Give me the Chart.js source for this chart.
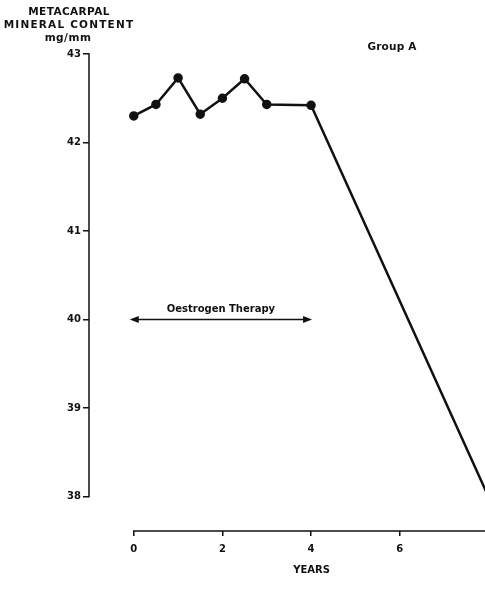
<!DOCTYPE html>
<html>
<head>
<meta charset="utf-8">
<script src="https://cdn.jsdelivr.net/npm/chart.js@4/dist/chart.umd.min.js"></script>
<style>
  html, body { margin: 0; padding: 0; background: #fff; overflow: hidden; width: 485px; height: 612px; }
  #wrap { position: absolute; left: 0; top: 0; width: 540px; height: 612px; }
</style>
</head>
<body>
<div id="wrap"><canvas id="c" width="540" height="612"></canvas></div>
<script>
// ---- data ----
const years   = [0, 0.5, 1, 1.5, 2, 2.5, 3, 4, 8];
const mineral = [42.30, 42.43, 42.73, 42.32, 42.50, 42.72, 42.43, 42.42, 38.0];
const xTicks  = [0, 2, 4, 6, 8];
const yTicks  = [38, 39, 40, 41, 42, 43];
const yTitleLines = ['METACARPAL', 'MINERAL CONTENT', 'mg/mm'];
const xTitle = 'YEARS';
const groupLabel = 'Group A';
const therapyLabel = 'Oestrogen Therapy';
const therapySpan = [0, 4];
const therapyLevel = 40;

const INK = '#111';
const FONT = 'DejaVu Sans';

const points = years.map((x, i) => ({ x, y: mineral[i] }));

const decor = {
  id: 'decor',
  beforeDraw(chart) {
    chart.ctx.letterSpacing = '0px';
  },
  afterDraw(chart) {
    const ctx = chart.ctx;
    const xs = chart.scales.x, ys = chart.scales.y;
    const area = chart.chartArea;
    ctx.save();
    ctx.strokeStyle = INK;
    ctx.fillStyle = INK;
    ctx.lineWidth = 1.5;
    // y axis line from 43 down to 38
    ctx.beginPath();
    ctx.moveTo(area.left, ys.getPixelForValue(yTicks[yTicks.length - 1]) - 0.75);
    ctx.lineTo(area.left, ys.getPixelForValue(yTicks[0]) + 0.75);
    ctx.stroke();
    // x axis line from 0 rightwards
    ctx.beginPath();
    ctx.moveTo(xs.getPixelForValue(xTicks[0]) - 0.75, area.bottom);
    ctx.lineTo(area.right, area.bottom);
    ctx.stroke();

    // y title (horizontal, three centred lines)
    ctx.textAlign = 'center';
    ctx.textBaseline = 'middle';
    ctx.font = 'bold 10.5px "' + FONT + '"';
    const tx = 69;
    ctx.letterSpacing = '0.4px';
    ctx.fillText(yTitleLines[0], tx, 12);
    ctx.letterSpacing = '1.2px';
    ctx.fillText(yTitleLines[1], tx, 25);
    ctx.letterSpacing = '0.5px';
    ctx.fillText(yTitleLines[2], tx - 1, 38);
    ctx.letterSpacing = '0.2px';

    // Group label
    ctx.fillText(groupLabel, 392, 47);

    // Oestrogen therapy arrow
    const ay = ys.getPixelForValue(therapyLevel);
    const ax0 = xs.getPixelForValue(therapySpan[0]) - 4;
    const ax1 = xs.getPixelForValue(therapySpan[1]) + 1;
    ctx.lineWidth = 1.5;
    ctx.beginPath();
    ctx.moveTo(ax0 + 4, ay);
    ctx.lineTo(ax1 - 4, ay);
    ctx.stroke();
    ctx.beginPath();
    ctx.moveTo(ax0, ay); ctx.lineTo(ax0 + 9, ay - 3.5); ctx.lineTo(ax0 + 9, ay + 3.5); ctx.closePath();
    ctx.fill();
    ctx.beginPath();
    ctx.moveTo(ax1, ay); ctx.lineTo(ax1 - 9, ay - 3.5); ctx.lineTo(ax1 - 9, ay + 3.5); ctx.closePath();
    ctx.fill();
    ctx.letterSpacing = '0px';
    ctx.font = 'bold 10px "' + FONT + '"';
    ctx.fillText(therapyLabel, (ax0 + ax1) / 2, ay - 10);
    ctx.letterSpacing = '0px';
    ctx.restore();
  }
};

new Chart(document.getElementById('c'), {
  type: 'scatter',
  data: {
    datasets: [{
      data: points,
      showLine: true,
      borderColor: INK,
      backgroundColor: INK,
      borderWidth: 2.5,
      pointRadius: c => (c.dataIndex === points.length - 1 ? 0 : 3.5),
      pointHoverRadius: 3.5,
      tension: 0,
      clip: false
    }]
  },
  options: {
    responsive: false,
    animation: false,
    events: [],
    layout: { padding: { top: 54, right: 5, left: 0, bottom: 0 } },
    plugins: { legend: { display: false }, tooltip: { enabled: false } },
    scales: {
      x: {
        type: 'linear',
        min: -1.01,
        max: 9.03,
        afterBuildTicks: s => { s.ticks = xTicks.map(v => ({ value: v })); },
        afterFit: s => { s.height = 81; },
        border: { display: false },
        grid: { drawOnChartArea: false, drawTicks: true, tickLength: 5, color: INK, lineWidth: 1.5 },
        ticks: { color: INK, font: { family: FONT, size: 10, weight: 'bold' }, padding: 7, maxRotation: 0, autoSkip: false },
        title: { display: true, text: xTitle, color: INK, font: { family: FONT, size: 10, weight: 'bold' }, padding: { top: 0, bottom: 36 } }
      },
      y: {
        type: 'linear',
        min: 37.61,
        max: 43,
        afterBuildTicks: s => { s.ticks = yTicks.map(v => ({ value: v })); },
        afterFit: s => { s.width = 89; },
        border: { display: false },
        grid: { drawOnChartArea: false, drawTicks: true, tickLength: 6, color: INK, lineWidth: 1.5 },
        ticks: { color: INK, font: { family: FONT, size: 10, weight: 'bold' }, padding: 2 }
      }
    }
  },
  plugins: [decor]
});
</script>
</body>
</html>
